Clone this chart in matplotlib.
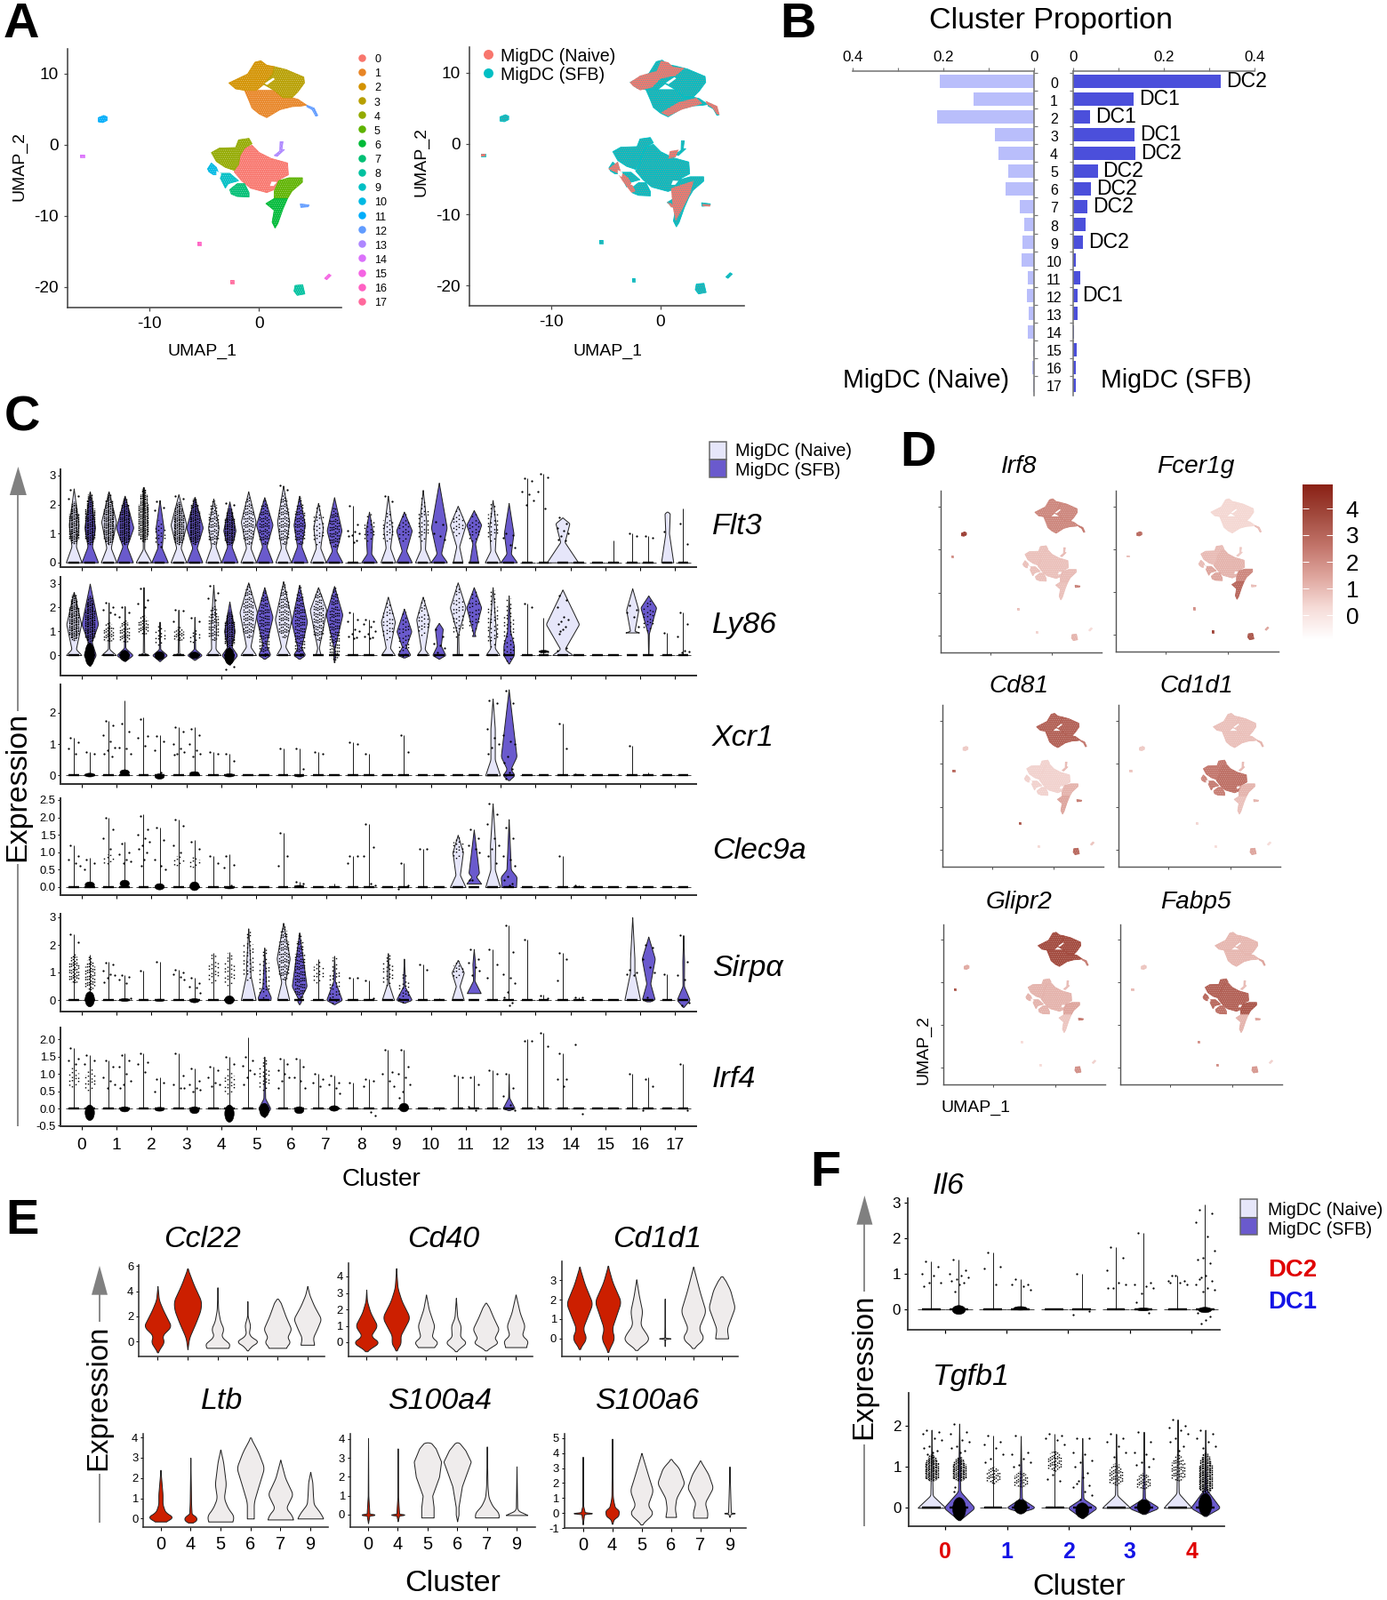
import numpy as np
import matplotlib
matplotlib.use('Agg')
import matplotlib.pyplot as plt
from matplotlib.patches import Polygon, Rectangle, Ellipse
from matplotlib.colors import LinearSegmentedColormap, to_rgb

plt.rcParams['font.family'] = ['Liberation Sans', 'DejaVu Sans']
plt.rcParams['axes.unicode_minus'] = False
plt.rcParams['lines.scale_dashes'] = False
plt.rcParams['hatch.linewidth'] = 0.5

W, H = 1560, 1800

def L(top, dots=(), blob=None, bot=0.0, band=None):
    return dict(top=top, bot=bot, w0=0, dots=dots, blob=blob, band=band, neck=0, mid=0, w1=0)

def B(top, bot, w0, neck, mid, w1, band=None, blob=None, dots=()):
    return dict(top=top, bot=bot, w0=w0, neck=neck, mid=mid, w1=w1, band=band, blob=blob, dots=dots)

# ---------- panel A / D : cluster territories on the UMAP
CLUSTER_COLORS = ['#F8766D', '#E88526', '#D39200', '#B79F00', '#93AA00', '#5EB300', '#00BA38', '#00BF74', '#00C19F',
                  '#00BFC4', '#00B9E3', '#00ADFA', '#619CFF', '#AE87FF', '#DB72FB', '#F564E3', '#FF61C3', '#FF699C']
CLUSTER_OUTLINES = [
    [[(-1.32, -.49), (-.64, -.08), (.03, -1.12), (1.12, -1.95), (2.61, -2.58), (2.69, -4.24), (1.93, -4.87), (1.39, -6.33), (.71, -6.74), (-.78, -6.12), (-1.59, -5.08), (-2.27, -3.83), (-1.87, -2.79), (-1.73, -1.53)]],
    [[(-1.32, 7.63), (-.24, 7.63), (.98, 7.63), (1.39, 7.63), (2.2, 6.59), (3.02, 6.59), (3.56, 6.38), (4.37, 5.55), (3.83, 5.42), (3.02, 5.34), (1.93, 4.92), (.71, 3.8), (.03, 4.3), (-.64, 5.13), (-.91, 6.17)]],
    [[(-2.76, 8.67), (-1.05, 9.92), (-.37, 11.59), (.17, 11.8), (.71, 11.17), (1.39, 10.97), (1.26, 9.92), (.44, 8.47), (-.24, 7.63), (-1.32, 7.63), (-2.14, 7.84)]],
    [[(1.39, 10.97), (2.48, 10.55), (4.1, 9.5), (4.16, 8.67), (3.56, 7.42), (3.02, 6.59), (2.2, 6.59), (1.39, 7.63), (.44, 8.47), (1.26, 9.92)]],
    [[(-4.36, -1.12), (-3.63, -.49), (-2.14, -.41), (-1.87, .67), (-.92, .88), (-.64, .13), (-1.32, -.49), (-1.73, -1.53), (-1.87, -2.79), (-2.27, -3.62), (-3.08, -3.2), (-3.9, -2.37)]],
    [[(1.8, -5.08), (2.75, -4.66), (3.97, -4.66), (3.97, -5.29), (3.02, -6.54), (2.61, -7.58), (1.39, -7.58), (1.39, -6.54)]],
    [[(.63, -8.29), (1.39, -7.58), (2.61, -7.58), (2.2, -9.03), (1.72, -11.12), (1.47, -11.74), (1.2, -10.91), (1.39, -9.24)]],
    [[(-2.68, -6.33), (-2, -5.49), (-1.32, -5.49), (-.91, -6.74), (-.91, -7.37), (-2, -7.29), (-2.54, -6.95)]],
    [[(3.3, -19.8), (4.0, -19.7), (4.2, -21.0), (3.5, -21.2), (3.2, -20.6)]],
    [[(-3.76, -4.03), (-2.68, -4.03), (-1.87, -5.08), (-2.81, -5.49), (-3.08, -6.12), (-3.49, -4.87)]],
    [[(-4.71, -3.41), (-4.36, -2.58), (-3.9, -3.2), (-3.63, -4.24), (-4.17, -4.24), (-4.58, -3.83)]],
    [[(-14.7, 3.2), (-14.7, 3.8), (-14.2, 4.1), (-13.9, 3.9), (-13.9, 3.4), (-14.3, 3.1)]],
    [[(4.37, 5.55), (5.05, 5.13), (5.38, 4.09), (5.19, 4.0), (4.86, 4.92), (4.37, 5.34)], [(3.78, -8.33), (4.59, -8.49), (4.51, -8.74), (3.83, -8.83)]],
    [[(1.39, -1.53), (1.9, -.9), (1.93, .42), (2.2, .42), (2.1, -.7), (2.34, -.7), (1.66, -1.66)]],
    [[(-16.4, -1.4), (-16.0, -1.4), (-16.0, -1.8), (-16.4, -1.8)]],
    [[(6.0, -18.8), (6.4, -18.2), (6.6, -18.4), (6.2, -19.0)]],
    [[(-5.6, -13.6), (-5.3, -13.6), (-5.3, -14.1), (-5.6, -14.1)]],
    [[(-2.6, -19.0), (-2.3, -19.0), (-2.3, -19.5), (-2.6, -19.5)]],
]
UMAP_HOLES = [
    [(.5, 8.6), (1.3, 9.4), (1.45, 9.2), (.75, 8.4)],
    [(-3.9, -3.7), (-3.45, -4.05), (-3.55, -4.7), (-3.9, -4.35)],
    [(-2.6, -5.5), (-1.95, -5.35), (-2.41, -5.8), (-2.75, -5.8)],
    [(1.15, -5.2), (1.65, -5.25), (1.35, -5.8), (1.0, -5.8)],
]
NAIVE_REGIONS = [
    [(-2.8, 8.66), (-1.85, 9.62), (-.35, 10.25), (.05, 11.71), (.73, 11.5), (1.14, 10.88), (2.23, 10.67), (1.41, 9.62), (.05, 9.2), (-.76, 7.95), (-1.85, 7.53), (-2.53, 8.16)],
    [(.05, 4.39), (1.68, 5.86), (3.31, 6.48), (3.86, 5.65), (1.96, 4.81), (.73, 3.89)],
    [(4.13, 6.07), (5.22, 5.31), (5.43, 4.06), (5.16, 4.18), (4.81, 5.02), (4.27, 5.56)],
    [(-4.78, -3.56), (-3.89, -2.51), (-3.62, -3.98), (-2.94, -4.81), (-2.26, -6.7), (-2.66, -6.9), (-3.48, -5.23), (-3.89, -4.18)],
    [(.87, -1.05), (1.68, -.84), (1.41, -1.88), (.73, -2.09)],
    [(.98, -6.28), (3.04, -5.23), (2.77, -6.9), (2.23, -8.58), (1.41, -10.88), (1.14, -9.0)],
    [(.6, -8.16), (1.41, -8.79), (1.0, -9.0)],
    [(3.86, -8.5), (4.62, -8.58), (4.54, -8.87), (3.86, -8.79)],
    [(-16.4, -1.4), (-16.0, -1.4), (-16.0, -1.8), (-16.4, -1.8)],
]
UMAP_XTICKS = [-10, 0]
UMAP_YTICKS = [-20, -10, 0, 10]

# ---------- panel B
CLUSTERS = [str(i) for i in range(18)]
PROP_NAIVE = [0.207, 0.133, 0.213, 0.087, 0.078, 0.057, 0.062, 0.032, 0.022, 0.025, 0.028, 0.014, 0.016, 0.012, 0.014, 0.001, 0.003, 0.001]
PROP_SFB = [0.325, 0.134, 0.037, 0.136, 0.138, 0.054, 0.039, 0.032, 0.027, 0.022, 0.005, 0.015, 0.009, 0.009, 0.001, 0.008, 0.006, 0.005]
DC_LABELS = {0: 'DC2', 1: 'DC1', 2: 'DC1', 3: 'DC1', 4: 'DC2', 5: 'DC2', 6: 'DC2', 7: 'DC2', 9: 'DC2', 12: 'DC1'}

# ---------- panel C : violin outlines and dots
FLT3_N = [B(2.55,0,.9,.55,1.3,.55,(.65,2.1,3),dots=(2.5,2.3,2.2)), B(2.45,0,.9,.5,1.4,.85,(.6,2.4,3)), B(2.6,0,.9,.45,1.5,.1,(.7,2.6,3)), B(2.35,0,.9,.5,1.3,.9,(.6,2.1,3),dots=(2.3,2.2)),
          B(2.2,0,.9,.55,1.2,.6,(.6,2.15,2)), B(2.45,0,.9,.5,1.4,.85,(.6,2.3,2)), B(2.65,0,.9,.5,1.4,.7,(.6,2.4,2),dots=(2.65,2.5)), B(2.05,0,.9,.5,1.2,.55,(.6,2.05,1)),
          L(1.95,(1.95,1.3,1.1,1.05,1,.95,.9,.75,.7)), B(2.3,0,.85,.5,1.1,.5,(.7,1.8,1),dots=(2.3,2.1)), B(2.5,0,.9,.45,1.4,.4,(.7,2.3,1)), B(1.95,0,.55,.55,1.3,.9,(.9,1.9,1)),
          B(2.15,0,.9,.4,1.2,.4,(.7,2.1,1)), L(2.9,(2.9,2.8,2.45,2.35,2.15,2)), B(1.55,0,1.8,.7,1.35,.8,dots=(1.55,1.35,1.2,1.1,1,.9,.8,.75)), L(0), L(1.0,(1,.9)), B(1.75,0,.7,1.0,1.7,.3,dots=(1.05,))]
FLT3_S = [B(2.45,0,.95,.55,1.2,.6,(.6,2.4,3)), B(2.3,0,.95,.55,1.2,1,(.6,2.25,3)), B(2.15,0,.95,.5,1.2,.45,(.6,1.5,1),dots=(2.1,1.9,1.8,.55)), B(2.25,0,.9,.5,1.2,.95,(.6,2.25,3)),
          B(2.1,0,.95,.55,1.1,.7,(.6,1.9,3),dots=(2.05,2)), B(2.25,0,.95,.55,1.3,.95,(.6,2.2,2)), B(2.3,0,.95,.55,1.3,.65,(.6,2.25,2)), B(2.25,0,.95,.4,1.1,.85,(.5,1.9,2)),
          B(1.75,0,.9,.3,1.1,.4,(.7,1.7,1)), B(1.75,0,.9,.4,1.1,.9,(.7,1.7,1)), B(2.75,0,.95,.3,1.2,.9,dots=(1.4,1.3,1,.9,.8)), B(1.8,0,.5,.65,1.3,.85,(.7,1.7,1)),
          B(2.05,0,.95,.3,1,.55,dots=(1,.95,.85,.6,.5)), L(3.05,(3.05,2.95,2.45,1.85)), L(0), L(.75), L(.9,(.9,.85)), L(1.85,(1.35,.65))]

LY86_N = [B(2.65,0,.9,.25,1.3,.85,(.6,2.6,3)), B(2.2,0,.85,.25,0,0,(.55,1.4,2),dots=(2.2,2,1.9,1.8,1.7)), B(2.85,0,.85,.05,0,0,(.85,1.7,2),dots=(2.8,2.3,2.15,2)), B(1.9,0,.85,.05,0,0,(.6,1.2,2),dots=(1.9,1.85,1.4)),
          B(2.95,0,.85,.25,1.2,.3,(.6,2.1,2),dots=(2.9,2.6,2.4,2.3)), B(3.05,0,.9,.35,1.8,1,(.7,3,2)), B(3.1,0,.8,.35,1.5,.95,(.7,3,2)), B(2.85,0,.3,.3,1.9,.95,(.6,2.8,2)),
          L(1.8,(1.8,1.5,1.4,1.1,1,.9,.8,.75,.7)), B(2.45,0,.8,.3,1.4,.8,(.6,2.3,1)), B(2.45,0,.7,.25,1.5,.75,(.8,2.4,1)), B(3.05,0,.1,.9,2,.9,(.7,3,1)),
          B(2.85,0,.8,.3,.9,.4,(.3,2.8,1)), L(2.15,(2.15,2)), B(2.75,0,1.2,.25,1.3,1.9,dots=(2.5,2.3,2,1.6,1.5,1.4,1.3,1.2,1.1,1,.9,.3,.2)), L(0), B(2.8,.95,.9,1.0,1.9,.7,dots=(2.1,1.9,1.8,1.6,1.2)), L(.95,(.95,))]
LY86_S = [B(3.0,-.45,.7,.55,1.3,.95,(.5,2.5,3),(-.45,.5)), B(2.05,-.25,.95,.3,0,0,(.5,1.5,2),(-.25,.2),(2,1.8,1.6)), B(1.4,-.25,.85,.25,0,0,(.4,1.3,1),(-.2,.15)), B(1.6,-.2,.85,.25,0,0,(.5,1.1,1),(-.15,.13),(1.55,1.4)),
          B(2.25,-.4,.9,.35,1.0,.6,(.3,1.9,3),(-.4,.3),(-.6,-.5)), B(2.85,-.15,.7,.45,1.6,.95,(-.1,2.8,2)), B(2.95,-.15,.7,.3,1.4,.9,(-.1,2.9,2)), B(2.9,-.3,.1,.3,1.7,.95,(-.25,2.9,2)),
          L(1.5,(1.5,1.4,1.3,1.2,1,.9,.8,.75,.7)), B(1.95,-.1,.75,.35,1,.85,(-.1,1.9,1)), B(1.35,-.15,.75,.4,1.1,.45,dots=(1.1,.8,.5,.4,.3,.1,0)), B(2.85,.8,.2,.9,2,.85,(1,2.8,1)),
          B(2.5,-.35,.6,1,.4,.6,(-.3,2.5,1)), L(1.55,(.15,.15),(.1,.2)), L(0), L(0), B(2.5,0,.02,.9,2,.9,(1,2.4,1)), L(1.8,(1.8,1.3,.8,.2,.15,.1))]

XCR1_N = [L(1.2,(1.2,1.05,.85,.7)), L(1.75,(1.75,1.6,1.3,1.1,.9,.8,.7,.6)), L(1.85,(1.8,1.25,1.2,.95)), L(1.55,(1.55,1.4,1,.85,.75,.7,.65)),
          L(.75,(.75,.7)), L(0), L(.85,(.85,)), L(.75,(.75,.7)), L(1.05,(1.05,1)), L(0), L(0), L(0),
          B(2.45,0,.85,.5,1.5,.25,dots=(2.4,2.3,1.5,1.2,1,.9,.7)), L(0), L(1.65,(1.65,.85)), L(0), L(.95,(.95,)), L(0)]
XCR1_S = [L(.75,(.75,.7),(-.05,.07)), L(2.4,(1.65,1.4,.9,.85,.7),(0,.18)), L(1.3,(1.25,1.1,.8,.1),(-.12,.05)), L(1.55,(1.5,1.3,1,.8,.7,.6),(0,.12)),
          L(.7,(.7,.45),(-.05,.05)), L(0), L(.85,(.85,.2),(-.05,.03)), L(.05), L(.7,(.7,)), L(1.3,(1.3,.75)), L(0), L(0),
          B(2.75,-.15,.7,.2,.6,.9,dots=(2.7,2.3,1.3,1.1,1,.6,.4,.2,.1,0,-.1)), L(0), L(.05,(.03,)), L(.03), L(.1), L(.03)]

CLEC9A_N = [L(1.2,(1.2,.9,.8,.7,.6)), L(2.0,(2,1.65,1.4,1.1),None,0.0,(.65,.95,1)), L(2.1,(2.05,1.65,1.5,1.4,1.3,1.2,1.1,1,.8,.6)), L(1.95,(1.95,1.75,1.2,1),None,0.0,(.6,.9,1)),
            L(.9,(.9,.7)), L(0), L(1.55,(1.55,.9,.6)), L(0), L(.9,(.9,.9,.7)), L(0), L(1.1,(1.1,1.1)), B(1.5,0,.9,.35,1,.6,(.8,1.5,1)),
            B(2.4,0,.85,.5,1.2,.3,dots=(2.4,2.1,1.8,1.4,1.2,1.1,.9,.7)), L(0), L(.9,(.9,)), L(0), L(0), L(0)]
CLEC9A_S = [L(.85,(.8,.7,.5),(-.02,.15)), L(1.3,(1.25,1,.95,.8,.75,.7),(0,.2)), L(1.7,(1.7,1.35,.8,.6,.5),(-.08,.1)), L(1.35,(1.3,1.1),(-.1,.15),0.0,(.55,.9,1)),
            L(.95,(.9,.65,.55,.05),(-.05,.02)), L(.03), L(.15,(.15,.1),(0,.05)), L(.1), L(1.8,(1.8,1.15,.9,.1,.05)), L(.7,(.7,.05,-.05)), L(.02), B(1.65,.1,.85,.3,.4,.6,dots=(1.65,1.4,1.2,1.1,1,.2,.2)),
            B(1.95,0,.85,.5,.3,.9,dots=(1.7,1.4,.9,.8,.6,.3,.2,.1,.05)), L(.02), L(.05,(.05,)), L(.02), L(.02), L(.02)]

SIRPA_N = [L(2.4,(2.4,2.1),None,0.0,(.6,1.7,2)), L(1.4,(1.35,1.3,1.05,.95,.9,.8,.65)), L(1.05,(1.05,)), L(1.1,(1.1,1,.95,.85,.75)),
           L(1.7,(),None,0.0,(.6,1.7,1)), B(2.6,0,.85,.9,1.2,.25,(.7,2.6,1)), B(2.8,0,.7,.65,1.5,.75,(.7,2.75,2)), L(1.5,(),None,0.0,(.6,1.5,1)),
           L(.8,(.8,.8)), B(1.7,0,.7,.6,1,.1,(.5,1.7,1)), L(1.3,(1.3,1.1)), B(1.45,0,.7,.5,1,.7,(.8,1.45,1)),
           L(1.85,(1.85,1.3,.8)), L(2.2,(2.2,)), L(1.7,(1.7,1.5,.7)), L(0), B(3,0,.9,1.0,1.5,.25,dots=(1.1,1,.95,.9)), L(.95,(.95,))]
SIRPA_S = [L(1.65,(),(-.25,.3),0.0,(.35,1.6,2)), L(.9,(.9,.85,.75,.6,.05),(-.05,.05)), L(1.4,(1.4,),(-.05,.03)), L(.8,(.8,.6,.5,.45,.25),(-.1,.05)),
           L(1.75,(),(-.15,.15),0.0,(.5,1.75,1)), B(1.9,0,.7,.5,.1,.75,(.05,1.9,1)), B(2.45,-.15,.3,.02,.5,.85,(0,2.4,2)), B(1.6,-.15,.9,.7,.8,.1,(-.15,1.6,1)),
           L(.7,(.7,.05)), B(1.5,-.1,.9,.5,.8,.1,(-.1,1,1)), L(.05), B(1.85,.25,.8,.7,1.3,.15,dots=(1.85,1.5,1.35,1.2,1.05,.9)),
           L(2.7,(2.7,1.75,.95,.8,.6,.3,.1,-.1,-.2)), L(.2,(.15,.05)), L(.1,(.1,.1)), L(.03), B(2.3,-.05,.75,.6,1.5,.75,dots=(2,1.9,1.5,1.2,1,.1)), B(2.35,-.25,.75,.5,1.4,.1,dots=(2.35,1.4,.9,.75,-.1,-.2))]

IRF4_N = [L(1.75,(1.75,1.45,1.4,1.3),None,0.0,(.6,1.2,1)), L(1.4,(1.4,1.2,.9,.8,.7,.6)), L(1.6,(1.6,1.35,1.3,1.05)), L(1.6,(1.6,.95,.7,.6,.6)),
          L(1.2,(1.2,1.1,.9,.75,.7,.65)), L(2.05,(1.5,1.4,1.25,1.1,1,.9,.7)), L(1.45,(1.45,1.3,1.1,1,.9,.8,.6)), L(1,(1,.85,.75,.65)),
          L(.75,(.75,)), L(1.7,(1.7,1.05,1,.8,.65)), L(0), L(.95,(.95,.9)), L(1.1,(1.1,1)), L(2,(1.95,1.95)), L(1.6,(1.6,.85,.85,.65)), L(0), L(1,(1,)), L(0)]
IRF4_S = [L(1.55,(1.55,1.4,1.3),(-.35,.1),0.0,(.5,1.2,1)), L(1.6,(1.55,1.4,1.2,1,.8,.7,.6),(-.1,.05)), L(.9,(.85,.75,.5),(-.08,.03)), L(1.15,(1.15,.8,.7,.6,.55,.5),(-.15,.05)),
          L(1.5,(1.5,1.3),(-.4,.1),0.0,(.4,1.2,1)), B(1.5,-.25,.7,.3,.3,.1,(.5,1.5,1),(-.25,.15)), L(1.45,(1.45,1.2,.9,.8,.6),(-.15,.05)), L(.95,(.95,.75,.7,.6,.45),(-.08,.08)),
          L(.85,(.85,.8,.65,-.1,-.2)), L(1.7,(1.7,1.2,1,.9,.7,.5,.3),(-.1,.15)), L(-.05), L(.95,(.9,.7,.05,-.05)), B(1,-.05,.7,.3,.35,.05,dots=(1,.6,.35,.1,-.05)), L(2.2,(2.2,1.8,.05)), L(0,(1.85,-.15)), L(0), L(.9,(.85,.65,-.05)), L(1.3,(1.3,-.05))]

C_GENES = [('Flt3', FLT3_N, FLT3_S, [0, 1, 2, 3], ['0', '1', '2', '3']),
           ('Ly86', LY86_N, LY86_S, [0, 1, 2, 3], ['0', '1', '2', '3']),
           ('Xcr1', XCR1_N, XCR1_S, [0, 1, 2], ['0', '1', '2']),
           ('Clec9a', CLEC9A_N, CLEC9A_S, [0, .5, 1, 1.5, 2, 2.5], ['0.0', '0.5', '1.0', '1.5', '2.0', '2.5']),
           ('Sirp\u03b1', SIRPA_N, SIRPA_S, [0, 1, 2, 3], ['0', '1', '2', '3']),
           ('Irf4', IRF4_N, IRF4_S, [-.5, 0, .5, 1, 1.5, 2], ['-0.5', '0.0', '0.5', '1.0', '1.5', '2.0'])]

# ---------- panel D : colour level of each cluster for each gene
IRF8_LEVEL = [.9, 2.2, 2.2, 2.2, .9, 1.0, .9, .9, 1.2, .9, .9, 4.2, 2.5, 1.0, 2.0, .3, 1.0, .5]
FCER1G_LEVEL = [1.2, .4, .4, .4, 1.0, 2.2, 3.0, 1.5, 3.5, 1.5, 1.0, 3.0, 1.0, .7, 1.0, 1.5, 2.0, 4.0]
CD81_LEVEL = [.5, 3.2, 3.2, 3.2, .5, 1.2, 1.5, .5, 3.0, .5, .5, .7, 2.5, 1.0, 3.0, .8, 3.5, .4]
CD1D1_LEVEL = [2.8, .9, .9, .9, 2.6, 1.2, .9, 2.4, 1.5, 2.5, 2.2, .7, 1.2, 1.0, .8, .3, .5, .3]
GLIPR2_LEVEL = [1.2, 3.8, 3.8, 3.8, 1.2, 1.5, .8, 1.2, 2.0, 1.2, 1.2, 1.4, 2.5, 1.0, 3.5, .5, .3, .3]
FABP5_LEVEL = [3.2, 1.1, 1.1, 1.1, 3.2, 3.5, 1.2, 2.8, 1.8, 3.0, 3.0, .8, 1.5, 1.0, 1.0, .5, 2.0, 2.0]
D_GENES = [('Irf8', IRF8_LEVEL), ('Fcer1g', FCER1G_LEVEL), ('Cd81', CD81_LEVEL), ('Cd1d1', CD1D1_LEVEL), ('Glipr2', GLIPR2_LEVEL), ('Fabp5', FABP5_LEVEL)]

# ---------- panel E : violin outlines as (expression, relative half width)
E_CLUSTERS = ['0', '4', '5', '6', '7', '9']
CCL22 = [[(-.85,0),(0,.5),(.45,.3),(1.2,1),(2.5,.4),(3.3,.1),(4.4,0)], [(-.6,0),(.3,.12),(1.5,.6),(2.5,.95),(3.2,1),(4.5,.45),(5.8,0)],
         [(-.5,.7),(-.3,1),(0,.7),(.4,.25),(1,.45),(1.6,.2),(2.5,.05),(4.3,0)], [(-.7,0),(-.2,.45),(0,.9),(.25,.4),(.6,.1),(1.3,.2),(2,.02),(3.2,0)],
         [(-.5,.6),(0,.95),(.3,.7),(1,1),(2,.6),(3.2,.2),(3.4,0)], [(-.25,.5),(.3,.4),(1,.7),(1.8,1),(2.8,.5),(3.7,.15),(4.4,0)]]
CD40 = [[(-.55,0),(0,1),(.35,.3),(1,.8),(1.8,.3),(2.5,.05),(3.2,0)], [(-.5,0),(0,.4),(.3,.25),(1.5,1),(2.5,.4),(3.3,.1),(4.5,0)],
        [(-.3,.55),(0,.9),(.3,.4),(1,.6),(2,.2),(2.9,0)], [(-.55,0),(0,.8),(.3,.3),(1,.35),(1.5,.1),(2.7,0)],
        [(-.5,0),(0,.95),(.2,.6),(.8,.95),(1.5,.55),(2.2,.2),(2.4,0)], [(-.3,.75),(.1,.9),(.4,.45),(1,.65),(1.8,.3),(2.9,0)]]
CD1D1 = [[(-.55,0),(0,.55),(.5,.25),(1.8,1),(2.8,.4),(3.7,0)], [(-.7,0),(0,.5),(.5,.3),(1.9,1),(2.9,.35),(3.75,0)],
         [(-.6,0),(-.1,.95),(.1,.9),(.7,.3),(1.4,.45),(2.2,.2),(3.05,0)], [(-.4,0),(-.02,.03),(0,.85),(.02,.03),(2.05,0)],
         [(-.5,0),(0,.85),(.5,.4),(1.4,.95),(2.4,.5),(3.7,0)], [(0,.5),(.5,.4),(1.6,1),(2.5,.65),(3.1,.2),(3.2,0)]]
LTB = [[(-.15,.3),(.05,1),(.3,.35),(.7,.15),(1.2,.15),(2.4,0)], [(-.2,0),(0,.85),(.12,.1),(.7,.05),(3,0)],
       [(-.15,.85),(.1,1),(.5,.55),(1,.25),(1.7,.4),(2.8,.2),(3.4,0)], [(0,.25),(.8,.25),(1.5,.55),(2.5,1),(3.3,.55),(4,0)],
       [(-.05,.95),(.25,.75),(.5,.4),(1.2,.9),(2,.35),(2.9,0)], [(0,.95),(.3,.7),(.7,.25),(1.1,.2),(1.8,.15),(2.3,0)]]
S100A4 = [[(-.45,0),(-.03,.1),(0,1),(.03,.1),(1,.02),(4.05,0)], [(-.35,0),(-.03,.1),(0,.9),(.03,.1),(1,.02),(3.5,0)],
          [(-.15,.45),(.4,.45),(1,.35),(2,.85),(2.8,1),(3.5,.6),(3.8,.25),(3.82,0)], [(-.35,0),(0,.1),(.4,.1),(1.5,.35),(2.8,1),(3.4,.6),(3.8,.15),(3.82,0)],
          [(-.15,.85),(.1,.9),(.4,.45),(.9,.12),(1.5,.05),(3.6,0)], [(-.02,.95),(.1,.35),(.25,.05),(2.55,0)]]
S100A6 = [[(-.75,0),(-.05,.1),(0,1),(.05,.15),(.5,.03),(3.75,0)], [(-.7,0),(-.2,.2),(0,1),(.2,.25),(1,.05),(4.95,0)],
          [(-.75,0),(0,.9),(.5,.45),(1.5,.85),(2.5,.5),(4,0)], [(-.25,.4),(.3,.3),(1,.4),(2,1),(3,.6),(3.6,0)],
          [(-.3,.5),(0,.55),(.7,.35),(1.7,.95),(2.6,.6),(3.5,0)], [(-.25,0),(-.02,.1),(0,.9),(.02,.1),(3.1,0)]]

# ---------- panel F
F_CLUSTERS = ['0', '1', '2', '3', '4']
F_TYPES = ['DC2', 'DC1', 'DC1', 'DC1', 'DC2']
IL6_N = [L(1.35,(1.35,1.2,1,.95,.75,.75,.65)), L(1.6,(1.6,1.2,1.15,.7)), L(0), L(1.75,(1.75,1.45,1.1,.75,.7,.6,.6)), L(.95,(.95,.8,.8,.75,.7,.95,.75))]
IL6_S = [L(1.4,(1.4,1.1,1,.95,.9,.85,.8,.75,.7,.5),(-.15,.1)), L(.85,(.85,.7,.7,.65,.55),(-.03,.07)), L(1,(1,-.05,-.15)),
         L(2.15,(2.15,.75,.7,.65,.6,.45,.2,-.1),(-.05,.03)), L(2.95,(2.8,2.7,2.45,2.05,1.65,1.45,1.4,1.3,.95,.9,.85,.8,.7,.6,.55,.5,-.1,-.2,-.3,-.4),(-.1,.05))]
TGFB1_N = [B(1.9,0,1.0,.3,0,0,(.65,1.3,3),dots=(1.9,1.85,1.8,1.7,1.65,1.5,1.45,1.4,1.35,1.3)),
           L(1.75,(1.75,1.6,1.55,1.45,1.3,1.2,1.1),None,0.0,(.6,1.0,2)),
           L(1.8,(1.8,1.75,1.7,1.65,1.55,.8,.7,.65),None,0.0,(.9,1.4,2)),
           B(1.8,0,1.0,.3,0,0,(.55,1.1,2),dots=(1.8,1.7,1.6,1.5,1.35,1.25)),
           B(2.15,0,1.0,.35,0,0,(.65,1.3,2),dots=(2.15,2,1.95,1.9,1.8,1.7,1.6,1.5,1.4))]
TGFB1_S = [B(2.05,-.3,1.1,.4,0,0,(.65,1.25,3),(-.3,.25),(2.05,1.85,1.8,1.65,1.6,1.5,1.45,1.4,1.35,.5,.4)),
           B(1.75,-.1,1.05,.22,0,0,(.5,.9,2),(-.15,.2),(1.75,1.35,1.3,1.2,1.1,1.05,1)),
           B(1.7,-.25,1.05,.22,0,0,None,(-.25,.12),(1.7,1.7,1.35,1.3,1.15,1.1,1,.85,.75,.65,.6,.55,.5,.4,.3,.2)),
           B(1.85,-.15,1.1,.22,0,0,(.45,.85,2),(-.15,.2),(1.85,1.6,1.35,1.3,1.2,1.1,1.05,1)),
           B(1.9,-.2,1.05,.45,0,0,(.35,1.35,3),(-.2,.35),(1.9,1.8,1.7,1.6,1.5,1.45))]

# ---------- helpers
NAIVE_FILL, SFB_FILL = '#E6E6FA', '#6A5ACD'
LINE = '#222222'
JITTER = [-.6, .8, -1.0, .3, 1.1, -.25, -.85, .6, .1, -.45]
SPACING = {1: 2.6, 2: 2.0, 3: 1.5}
GAP = {1: (1, 2.2, 1, 4, 1, 1.5, 1, 3), 2: (1, 1.2, 1, 2.4, 1, .8, 1, 1.8), 3: (1.2, .4, 1, .8, 1.5, .5)}
PHASE = [0, 3.1, 1.4, 5.2, 2.3, 6.7, .9, 4.4]
fs = lambda px: px * .72

def mix(c, other, t):
    a, b = np.array(to_rgb(c)), np.array(to_rgb(other))
    return tuple(a * (1 - t) + b * t)

fig = plt.figure(figsize=(W / 100, H / 100), dpi=100, facecolor='white')

def axpx(x0, ytop, x1, ybot):
    return fig.add_axes([x0 / W, 1 - ybot / H, (x1 - x0) / W, (ybot - ytop) / H])

def style(ax, color='#333333', lw=1.6):
    for s in ('top', 'right'):
        ax.spines[s].set_visible(False)
    for s in ('left', 'bottom'):
        ax.spines[s].set_color(color)
        ax.spines[s].set_linewidth(fs(lw))
    ax.patch.set_alpha(0)

def profile(v):
    b0 = max(v['bot'], 0)
    k = []
    if v['bot'] < 0:
        k.append((v['bot'], .03))
    k.append((b0, v['w0']))
    if v['neck'] > b0:
        k.append((v['neck'], min(.25, max(.06, v['w0'] * .3)) if v['w1'] > .15 else .08))
    if v['w1'] > 0 and v['mid'] > b0:
        k.append((v['mid'], v['w1']))
    k.append((v['top'], 0))
    return sorted(k)

def draw_knots(ax, x, knots, fc, scale, win=None):
    ky, kw = zip(*knots)
    if win is None:
        win = 31 if min(np.diff(ky)) / (ky[-1] - ky[0]) > .03 else 5
    ys = np.linspace(ky[0], ky[-1], 300)
    w = np.interp(ys, ky, kw)
    pad = np.pad(w, win // 2, mode='edge')
    w2 = np.convolve(pad, np.ones(win) / win, mode='valid')
    w2[-1] = 0
    ax.fill_betweenx(ys, x - w2 * scale, x + w2 * scale, facecolor=fc, edgecolor=LINE, linewidth=fs(1.0), zorder=2)

def band(ax, x, lo, hi, lvl, hw_px, ppu):
    n = int(2 * hw_px / SPACING[lvl]) + 1
    xs = np.linspace(x - hw_px / ppu, x + hw_px / ppu, n)
    for k, xk in enumerate(xs):
        t = abs(2 * k / max(n - 1, 1) - 1) ** 2
        ax.vlines(xk, lo + (hi - lo) * .12 * t, hi - (hi - lo) * .3 * t, color='k', linewidth=1.05,
                  linestyles=[(PHASE[k % 8], GAP[lvl])], zorder=3)

def draw_group(ax, x, v, fc, ppu, hw_px, jit_px, wscale):
    has_body = v['w0'] > 0 or v['w1'] > 0
    if has_body:
        draw_knots(ax, x, profile(v), fc, wscale, win=13)
    elif v['top'] != v['bot']:
        ax.vlines(x, v['bot'], v['top'], color=LINE, linewidth=fs(1.0), zorder=2)
    if not has_body:
        ax.hlines(0, x - .22, x + .22, color='#444444', linewidth=fs(1.0), zorder=2)
    if v['band'] is not None:
        band(ax, x, v['band'][0], v['band'][1], v['band'][2], hw_px, ppu)
    if v['blob'] is not None:
        lo, hi = v['blob']
        ax.add_patch(Ellipse((x, (lo + hi) / 2), 2.1 * hw_px / ppu, hi - lo, facecolor='k', edgecolor='k', linewidth=.4, zorder=3))
    for i, d in enumerate(v['dots']):
        ax.scatter(x + JITTER[i % len(JITTER)] * jit_px / ppu, d, s=2.6, color='k', linewidths=0, zorder=4)
    ax.hlines(0, x - .15, x + .15, color='k', linewidth=fs(2.4), zorder=4)

# ---------- panel A
def draw_umap(ax, colors, hatch_color='white', strength=.45):
    for polys, c in zip(CLUSTER_OUTLINES, colors):
        for p in polys:
            ax.add_patch(Polygon(p, closed=True, facecolor=c, edgecolor=mix(c, hatch_color, strength), hatch='.......', linewidth=0, zorder=2))
            ax.add_patch(Polygon(p, closed=True, fill=False, edgecolor=c, linewidth=.6, zorder=2))
    for p in UMAP_HOLES:
        ax.add_patch(Polygon(p, closed=True, facecolor='white', edgecolor='none', zorder=5))

for (box, x0px, u_x, y0px, u_y, colors) in [((75.7, 55, 384, 345.7), 291.3, 12.29, 162.7, 8.0, CLUSTER_COLORS),
                                            ((527.7, 53, 836.5, 343.7), 742.7, 12.27, 161.7, 7.97, ['#00BFC4'] * 18)]:
    ax = axpx(*box)
    ax.set_xlim((box[0] - x0px) / u_x, (box[2] - x0px) / u_x)
    ax.set_ylim((y0px - box[3]) / u_y, (y0px - box[1]) / u_y)
    right = colors[0] == '#00BFC4'
    draw_umap(ax, colors, hatch_color='#F8766D' if right else 'white', strength=.6 if right else .45)
    style(ax, '#444444')
    ax.set_xticks(UMAP_XTICKS)
    ax.set_yticks(UMAP_YTICKS)
    ax.tick_params(labelsize=fs(19), length=fs(4), width=fs(1.2), color='#444444', pad=fs(6))
    if right:
        for p in NAIVE_REGIONS:
            ax.add_patch(Polygon(p, closed=True, facecolor='#F8766D', edgecolor=mix('#F8766D', '#00BFC4', .6), hatch='.......', linewidth=0, zorder=3))

# ---------- panel B
for side, vals, color in (('L', PROP_NAIVE, '#B9BEFB'), ('R', PROP_SFB, '#4B4FDB')):
    box = (959, 80, 1163, 445) if side == 'L' else (1207, 80, 1411, 445)
    ax = axpx(*box)
    ax.barh(range(18), vals, height=.75, color=color, edgecolor='none')
    ax.set_ylim(17.58, -.58)
    ax.set_xlim(*((.4, 0) if side == 'L' else (0, .4)))
    for s in ax.spines.values():
        s.set_visible(False)
    ax.spines['top'].set_visible(True)
    ax.spines['right' if side == 'L' else 'left'].set_visible(True)
    for s in ax.spines.values():
        s.set_color('#777777')
        s.set_linewidth(fs(1.6))
    ax.xaxis.tick_top()
    ax.set_xticks([0, .2, .4], ['0', '0.2', '0.4'])
    ax.set_xticks([.1, .3], minor=True)
    ax.tick_params(axis='x', which='both', length=fs(4), width=fs(1.2), color='#777777', labelsize=fs(17), pad=fs(4))
    if side == 'L':
        ax.yaxis.tick_right()
    ax.set_yticks(np.arange(18) - .5)
    ax.set_yticklabels([])
    ax.tick_params(axis='y', length=fs(4), width=fs(1.2), color='#777777')
    ax.patch.set_alpha(0)
    if side == 'R':
        for i, s in DC_LABELS.items():
            ax.annotate(s, (vals[i], i), xytext=(fs(6), 0), textcoords='offset points', va='center', ha='left', fontsize=fs(23))

# ---------- panel C
C_BOXES = [(528, 638, 632.7, 32.6), (649, 760, 737, 26.8), (770, 882, 872.3, 35.2), (898, 1007, 998, 39.2), (1027.7, 1138, 1125, 31), (1156, 1267, 1247, 38.8)]
C_GENEY = [590, 701, 828, 955, 1087, 1212]
for idx, ((gene, nv, sv, yt, ytl), (ytop, ybot, y0, u)) in enumerate(zip(C_GENES, C_BOXES)):
    ax = axpx(68.4, ytop, 783, ybot)
    ax.set_xlim(-.6, 17.6)
    ax.set_ylim((y0 - ybot) / u, (y0 - ytop) / u)
    for i in range(18):
        draw_group(ax, i - .23, nv[i], NAIVE_FILL, 39.26, 5, 6, .25)
        draw_group(ax, i + .23, sv[i], SFB_FILL, 39.26, 5, 6, .25)
    style(ax, '#333333', 2)
    ax.set_yticks(yt, ytl)
    ax.set_xticks(range(18))
    ax.set_xticklabels(CLUSTERS if idx == 5 else [])
    ax.tick_params(axis='y', labelsize=fs(13), length=fs(3), width=fs(1), pad=fs(3))
    ax.tick_params(axis='x', labelsize=fs(19), length=fs(4), width=fs(1), pad=fs(9))

# ---------- panel D
cmap = LinearSegmentedColormap.from_list('d', ['#FFFFFF', '#F6DCD8', '#DFA69E', '#C2746A', '#A24A3E', '#8A1F14'])
norm = plt.Normalize(-.88, 4.91)
D_BOXES = [(1057.9, 552, 1239, 733.7), (1255, 552, 1437.5, 732.7), (1059.6, 793.4, 1241, 974.5), (1258, 793.4, 1440, 974.5), (1060.7, 1039.7, 1243, 1220), (1260, 1039.7, 1442, 1220)]
for (gene, lev), box in zip(D_GENES, D_BOXES):
    ax = axpx(*box)
    ax.set_xlim(-18.1, 8.1)
    ax.set_ylim(-23.9, 13.7)
    draw_umap(ax, [cmap(norm(v)) for v in lev], strength=.35)
    style(ax, '#555555', 1.4)
    ax.set_xticks(UMAP_XTICKS, [])
    ax.set_yticks(UMAP_YTICKS, [])
    ax.tick_params(length=fs(3), width=fs(1), color='#555555')
cax = axpx(1465, 544.7, 1499, 718.8)
cax.imshow(np.linspace(4.91, -.88, 256)[:, None], aspect='auto', cmap=cmap, norm=norm, extent=(0, 1, -.88, 4.91))
cax.set_xticks([])
cax.set_yticks([])
for s in cax.spines.values():
    s.set_visible(False)
for v in range(5):
    cax.hlines(v, 0, .2, color='white', linewidth=fs(1))
    cax.hlines(v, .8, 1, color='white', linewidth=fs(1))

# ---------- panel E
E_SET = [('Ccl22', CCL22, (156.3, 1423, 364.8, 1525.7), 177.2, 33.7, 1509.3, 14.2, [0, 2, 4, 6]),
         ('Cd40', CD40, (391.7, 1421, 599, 1525.7), 412, 33.6, 1510, 18.5, [0, 1, 2, 3, 4]),
         ('Cd1d1', CD1D1, (632, 1419, 830, 1525.7), 651.7, 32, 1505.7, 21.8, [0, 1, 2, 3]),
         ('Ltb', LTB, (161.3, 1613, 369, 1718.3), 180.5, 33.7, 1708.3, 22.8, [0, 1, 2, 3, 4]),
         ('S100a4', S100A4, (393.9, 1612.7, 601.8, 1718.3), 414, 33.4, 1704, 21.3, [0, 1, 2, 3, 4]),
         ('S100a6', S100A6, (634.7, 1613, 839, 1719.3), 655.5, 33, 1702.7, 17, [-1, 0, 1, 2, 3, 4, 5])]
for n, (gene, vio, box, x0, ux, y0, uy, yt) in enumerate(E_SET):
    ax = axpx(*box)
    ax.set_xlim((box[0] - x0) / ux, (box[2] - x0) / ux)
    ax.set_ylim((y0 - box[3]) / uy, (y0 - box[1]) / uy)
    for i, kn in enumerate(vio):
        draw_knots(ax, i, kn, '#CC1F00' if i < 2 else '#EFECEC', .46)
    style(ax, '#333333', 1.6)
    ax.set_yticks(yt, [str(v) for v in yt])
    ax.set_xticks(range(6))
    ax.set_xticklabels(E_CLUSTERS if n >= 3 else [])
    ax.tick_params(axis='y', labelsize=fs(13), length=fs(3), width=fs(1), pad=fs(3))
    ax.tick_params(axis='x', labelsize=fs(20), length=fs(4), width=fs(1), pad=fs(6))

# ---------- panel F
F_BOXES = [(IL6_N, IL6_S, (1021, 1348.3, 1372, 1496), 1062.9, 1472.7, 40.0, [0, 1, 2, 3]),
           (TGFB1_N, TGFB1_S, (1022, 1567, 1377, 1716.7), 1063.3, 1696.3, 46.2, [0, 1, 2])]
for n, (nv, sv, box, x0, y0, uy, yt) in enumerate(F_BOXES):
    ax = axpx(*box)
    ax.set_xlim((box[0] - x0) / 69.2, (box[2] - x0) / 69.2)
    ax.set_ylim((y0 - box[3]) / uy, (y0 - box[1]) / uy)
    for i in range(5):
        draw_group(ax, i - .225, nv[i], NAIVE_FILL, 69.2, 7, 10, .23)
        draw_group(ax, i + .225, sv[i], SFB_FILL, 69.2, 7, 10, .23)
    style(ax, '#333333', 1.8)
    ax.set_yticks(yt, [str(v) for v in yt])
    ax.set_xticks(range(5))
    ax.set_xticklabels(F_CLUSTERS if n == 1 else [], fontweight='bold')
    ax.tick_params(axis='y', labelsize=fs(17), length=fs(4), width=fs(1.2), pad=fs(4))
    ax.tick_params(axis='x', labelsize=fs(25), length=fs(4), width=fs(1.2), pad=fs(13))
    if n == 1:
        for lab, t in zip(ax.get_xticklabels(), F_TYPES):
            lab.set_color('#E00000' if t == 'DC2' else '#1414E6')

# ---------- overlay in pixel coordinates : free text, arrows, legends
ov = fig.add_axes([0, 0, 1, 1], zorder=20)
ov.set_xlim(0, W)
ov.set_ylim(H, 0)
ov.axis('off')

def T(x, y, s, px, ha='center', va='center', rotation=0, **kw):
    if rotation:
        x += 3
    else:
        y += 2.5
    ov.text(x, y, s, fontsize=fs(px), ha=ha, va=va, rotation=rotation, **kw)

for s, x, y in [('A', 24, 25), ('B', 897, 25), ('C', 25, 468), ('D', 1033, 507), ('E', 25, 1372), ('F', 928, 1317)]:
    T(x, y, s, 56, fontweight='bold')

T(227.6, 393, 'UMAP_1', 19.5)
T(684, 393, 'UMAP_1', 19.5)
T(19, 186.7, 'UMAP_2', 19.5, rotation=90)
T(470.6, 181.7, 'UMAP_2', 19.5, rotation=90)
for i, c in enumerate(CLUSTER_COLORS):
    y = 64.7 + 16.12 * i
    ov.scatter(406.5, y, s=fs(8.5) ** 2, color=c, linewidths=0)
    T(421, y, CLUSTERS[i], 12.5, ha='left')
for y, c, s in [(61, '#F8766D', 'MigDC (Naive)'), (81.7, '#00BFC4', 'MigDC (SFB)')]:
    ov.scatter(548.5, y, s=fs(11) ** 2, color=c, linewidths=0)
    T(563, y, s, 19.7, ha='left')

T(1182, 20.7, 'Cluster Proportion', 34)
T(1042, 425, 'MigDC (Naive)', 28.5)
T(1323, 425, 'MigDC (SFB)', 28.5)
for i, s in enumerate(CLUSTERS):
    T(1185.4, 91.7 + 20.1 * i, s, 16)

def arrow(x, tip, base, hw, segs):
    ov.add_patch(Polygon([(x, tip), (x - hw, base), (x + hw, base)], closed=True, facecolor='#808080', edgecolor='none'))
    for a, b in segs:
        ov.plot([x, x], [a, b], color='#808080', linewidth=fs(1.8), solid_capstyle='butt')

arrow(20.4, 525, 557, 9.5, [(557, 800), (972, 1267)])
T(17, 885, 'Expression', 34, rotation=90)
for (g, *_), y in zip(C_GENES, C_GENEY):
    T(801, y, g, 34, ha='left', style='italic')
T(428.6, 1325, 'Cluster', 28)

def legend(x0, x1, y1, y2, y3, tx, ty1, ty2, px):
    ov.add_patch(Rectangle((x0, y1), x1 - x0, y2 - y1, facecolor=NAIVE_FILL, edgecolor='#666666', linewidth=fs(1.5)))
    ov.add_patch(Rectangle((x0, y2), x1 - x0, y3 - y2, facecolor=SFB_FILL, edgecolor='#666666', linewidth=fs(1.5)))
    T(tx, ty1, 'MigDC (Naive)', px, ha='left')
    T(tx, ty2, 'MigDC (SFB)', px, ha='left')

legend(798, 817, 497, 517, 537, 827, 505, 527, 20)
legend(1395.4, 1414.3, 1349.3, 1369.5, 1388.7, 1426, 1359, 1380.7, 19.6)

for (g, _), x, y in zip(D_GENES, [1146, 1345, 1146, 1346, 1146, 1345], [522, 522, 769.6, 769.6, 1012, 1012]):
    T(x, y, g, 28, style='italic')
for v, y in zip([4, 3, 2, 1, 0], [572, 601.9, 632, 662.6, 692.4]):
    T(1521, y, str(v), 26)
T(1035.7, 1181.5, 'UMAP_2', 19.5, rotation=90)
T(1098, 1243.7, 'UMAP_1', 19.5)

for (g, *_), x, y in zip(E_SET, [227.6, 499, 739.4, 249.6, 494.8, 728], [1392] * 3 + [1574] * 3):
    T(x, y, g, 34, style='italic')
arrow(112, 1424, 1456.7, 9, [(1456, 1487), (1658, 1713)])
T(108, 1572, 'Expression', 33, rotation=90)
T(509, 1779, 'Cluster', 34)

T(1049, 1331.7, 'Il6', 34, ha='left', style='italic')
T(1049, 1546.7, 'Tgfb1', 34, ha='left', style='italic')
arrow(972.4, 1345, 1377.7, 9, [(1377, 1453), (1625, 1716.7)])
T(969, 1537, 'Expression', 33, rotation=90)
T(1213.5, 1783, 'Cluster', 33)
T(1426, 1427, 'DC2', 27.5, ha='left', color='#E00000', fontweight='bold')
T(1426, 1462.7, 'DC1', 27.5, ha='left', color='#1414E6', fontweight='bold')

fig.savefig('out.png', dpi=100, facecolor='white')
